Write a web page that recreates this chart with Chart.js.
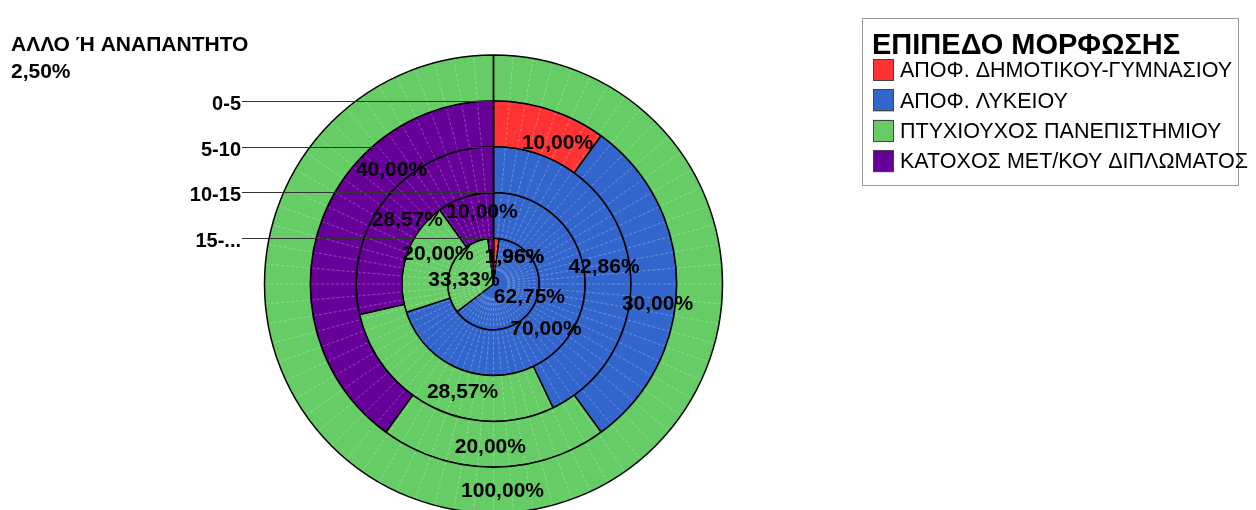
<!DOCTYPE html>
<html lang="el">
<head>
<meta charset="utf-8">
<title>ΕΠΙΠΕΔΟ ΜΟΡΦΩΣΗΣ</title>
<script src="https://cdn.jsdelivr.net/npm/chart.js@4.4.1/dist/chart.umd.min.js"></script>
<style>
  html, body { margin: 0; padding: 0; background: #ffffff; }
  canvas { display: block; }
</style>
</head>
<body>
<canvas id="rings" width="1256" height="510"></canvas>
<script>
// Rings, outermost first (years of service groups)
const ringNames = ['ΑΛΛΟ Ή ΑΝΑΠΑΝΤΗΤΟ', '0-5', '5-10', '10-15', '15-...'];
const otherShare = 2.50;

// Education levels (legend entries)
const levels = [
  'ΑΠΟΦ. ΔΗΜΟΤΙΚΟΥ-ΓΥΜΝΑΣΙΟΥ',
  'ΑΠΟΦ. ΛΥΚΕΙΟΥ',
  'ΠΤΥΧΙΟΥΧΟΣ ΠΑΝΕΠΙΣΤΗΜΙΟΥ',
  'ΚΑΤΟΧΟΣ ΜΕΤ/ΚΟΥ ΔΙΠΛΩΜΑΤΟΣ'
];
const legendTitle = 'ΕΠΙΠΕΔΟ ΜΟΡΦΩΣΗΣ';

// Share (%) of each ring per education level, ring order as above
const primarySchool = [0, 10.00, 0, 0, 1.96];
const lyceum        = [0, 30.00, 42.86, 70.00, 62.75];
const universityDeg = [100.00, 20.00, 28.57, 20.00, 33.33];
const postgraduate  = [0, 40.00, 28.57, 10.00, 1.96];

const series = [primarySchool, lyceum, universityDeg, postgraduate];
const colors = ['#ff3333', '#3366cc', '#66cc66', '#660099'];
const FONT = '"Liberation Sans", Arial, Helvetica, sans-serif';

// Label placement tweaks per ring / level: [degrees along the ring, px outward]
const labelShift = [
  [null, null, [-2.5, 0.9], null],
  [[6.5, -5.9], [7.1, 5], [1.1, 3.2], [30.2, -7.3]],
  [null, [4.4, -2.8], [-9.8, -1.7], [-2.2, -7.6]],
  [null, [4.9, 0.8], [10, -5.8], [8.9, 3.7]],
  [[34.9, 10.9], [-9.3, 15.5], [-15.2, 6.9], [41.9, 10.9]]
];

const fmtPct = v => v.toFixed(2).replace('.', ',') + '%';

const datasets = ringNames.map((name, r) => ({
  label: name,
  data: series.map(s => s[r]),
  backgroundColor: colors,
  borderColor: '#000000',
  borderWidth: 1.5,
  radius: 229,
  clip: false
}));

const decor = {
  id: 'ringDecor',
  afterDatasetsDraw(chart) {
    const ctx = chart.ctx;
    const metas = ringNames.map((_, d) => chart.getDatasetMeta(d));
    const first = metas[0].data.find(a => a.circumference > 0) || metas[0].data[0];
    const cx = first.x, cy = first.y;
    ctx.save();

    // faint seams across every ring
    ctx.strokeStyle = 'rgba(255,255,255,0.28)';
    ctx.lineWidth = 1;
    ctx.setLineDash([3, 2]);
    metas.forEach(meta => {
      const a0 = meta.data[0];
      const rin = Math.max(a0.innerRadius + 2, 14), rout = a0.outerRadius - 2;
      for (let k = 1; k < 72; k++) {
        const ang = -Math.PI / 2 + k * Math.PI / 36;
        ctx.beginPath();
        ctx.moveTo(cx + rin * Math.cos(ang), cy + rin * Math.sin(ang));
        ctx.lineTo(cx + rout * Math.cos(ang), cy + rout * Math.sin(ang));
        ctx.stroke();
      }
    });
    ctx.setLineDash([]);

    // start line from the top of the outer ring to the centre
    ctx.strokeStyle = '#000000';
    ctx.lineWidth = 1.5;
    ctx.beginPath();
    ctx.moveTo(cx, cy - metas[0].data[0].outerRadius);
    ctx.lineTo(cx, cy);
    ctx.stroke();

    // ring names with leader lines
    ctx.font = 'bold 20px ' + FONT;
    ctx.fillStyle = '#000000';
    ctx.textAlign = 'right';
    ctx.textBaseline = 'alphabetic';
    ctx.strokeStyle = '#333333';
    ctx.lineWidth = 1;
    for (let d = 1; d < ringNames.length; d++) {
      const y = Math.round(cy - metas[d].data[0].outerRadius) + 0.5;
      ctx.beginPath();
      ctx.moveTo(242, y);
      ctx.lineTo(cx, y);
      ctx.stroke();
      ctx.fillText(ringNames[d], 241, y + 8.5);
    }
    ctx.textAlign = 'left';
    ctx.font = 'bold 21px ' + FONT;
    ctx.fillText(ringNames[0], 11, 51);
    ctx.fillText(fmtPct(otherShare), 11, 77.5);

    // value labels
    ctx.font = 'bold 21px ' + FONT;
    ctx.textAlign = 'center';
    ctx.textBaseline = 'middle';
    metas.forEach((meta, d) => {
      meta.data.forEach((arc, i) => {
        const v = series[i][d];
        if (!v) return;
        const sh = labelShift[d][i] || [0, 0];
        const mid = (arc.startAngle + arc.endAngle) / 2 + sh[0] * Math.PI / 180;
        const rr = (arc.innerRadius + arc.outerRadius) / 2 + sh[1];
        ctx.fillText(fmtPct(v), cx + rr * Math.cos(mid), cy + rr * Math.sin(mid));
      });
    });

    // legend
    ctx.strokeStyle = '#9a9a9a';
    ctx.lineWidth = 1;
    ctx.strokeRect(862.5, 18.5, 376, 167);
    ctx.textAlign = 'left';
    ctx.textBaseline = 'alphabetic';
    ctx.fillStyle = '#000000';
    ctx.font = 'bold 29px ' + FONT;
    ctx.fillText(legendTitle, 872, 53.5);
    ctx.font = '21.5px ' + FONT;
    levels.forEach((name, i) => {
      const y = 59 + i * 30.4;
      ctx.fillStyle = colors[i];
      ctx.fillRect(873, y, 21, 22);
      ctx.strokeStyle = '#444444';
      ctx.strokeRect(873.5, Math.round(y) + 0.5, 20, 21);
      ctx.fillStyle = '#000000';
      ctx.fillText(name, 900, y + 18.2);
    });
    ctx.restore();
  }
};

new Chart(document.getElementById('rings'), {
  type: 'doughnut',
  data: { labels: levels, datasets },
  options: {
    responsive: false,
    animation: false,
    events: [],
    cutout: 0,
    radius: 229,
    layout: { padding: { left: 0, right: 269, top: 58, bottom: 0 } },
    plugins: {
      legend: { display: false },
      tooltip: { enabled: false },
      title: { display: false }
    }
  },
  plugins: [decor]
});
</script>
</body>
</html>
